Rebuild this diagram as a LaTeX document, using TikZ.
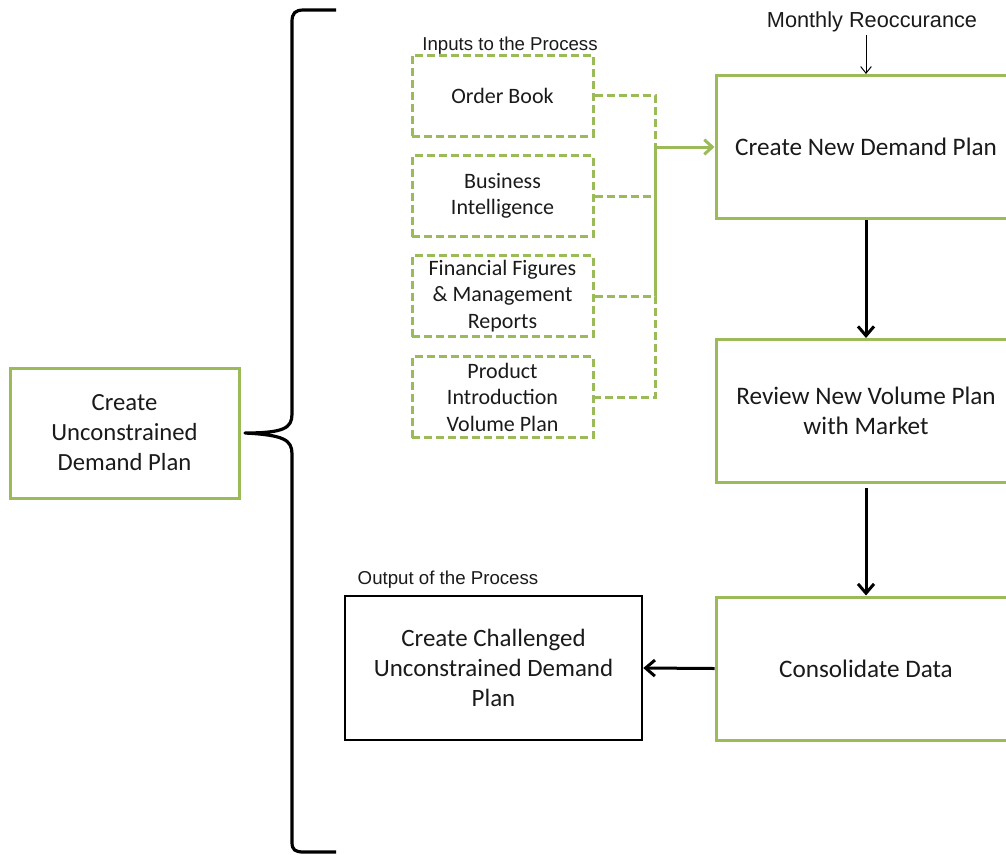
\documentclass[tikz,border=0pt]{standalone}
\usepackage{fontspec}
\setmainfont{Carlito}
\newfontfamily\arialf{Liberation Sans}
\usetikzlibrary{arrows.meta}
\definecolor{ogreen}{HTML}{9BBB59}
\definecolor{txt}{HTML}{1A1A1A}
\tikzset{
  bigbox/.style={draw=ogreen, line width=2.25pt, minimum width=225pt, minimum height=107.25pt, inner sep=0pt, align=center, text=txt, font=\fontsize{18.9}{22.8}\selectfont},
  leftbox/.style={draw=ogreen, line width=2.25pt, minimum width=171.75pt, minimum height=97.5pt, inner sep=0pt, align=center, text=txt, font=\fontsize{18.5}{22.5}\selectfont},
  outbox/.style={draw=black, line width=1.9pt, minimum width=222.75pt, minimum height=108pt, inner sep=0pt, align=center, text=txt, font=\fontsize{18.7}{22.8}\selectfont},
  inbox/.style={draw=ogreen, line width=2.25pt, dash pattern=on 6pt off 3pt, minimum width=135.75pt, minimum height=60.75pt, inner sep=0pt, align=center, text=txt, font=\fontsize{16.5}{19.9}\selectfont},
  lbl/.style={inner sep=0pt, text=txt, font=\arialf\fontsize{14}{16}\selectfont},
  dashline/.style={draw=ogreen, line width=2.25pt, dash pattern=on 6pt off 3pt},
  solidgreen/.style={draw=ogreen, line width=2.25pt},
  bigarrow/.style={draw=black, line width=2.25pt, -{Straight Barb[length=7pt,width=12pt,line width=2.25pt]}},
  greenarrow/.style={draw=ogreen, line width=2.25pt, -{Straight Barb[length=6pt,width=11pt,line width=2.25pt]}},
  thinarrow/.style={draw=black, line width=0.75pt, -{Straight Barb[length=5pt,width=8pt,line width=0.75pt]}},
  bracepath/.style={draw=black, line width=2.4pt, line join=round}
}
\begin{document}
\begin{tikzpicture}[x=0.75pt, y=-0.75pt]
\useasboundingbox (0,0) rectangle (1006,854);
\clip (0,0) rectangle (1006,854);

% main boxes
\node[leftbox] (lb) at (124.5,433) {Create\\Unconstrained\\Demand Plan};
\node[bigbox] (cnd) at (866,147) {Create New Demand Plan};
\node[bigbox] (rev) at (866,411) {Review New Volume Plan\\with Market};
\node[bigbox] (con) at (866,668.5) {Consolidate Data};
\node[outbox] (out) at (493.5,668) {Create Challenged\\Unconstrained Demand\\Plan};

% inputs
\node[inbox] (ob) at (502.5,95.5) {Order Book};
\node[inbox] (bi) at (502.5,196) {Business\\Intelligence};
\node[inbox] (ff) at (502.5,296) {\raisebox{0pt}{}Financial Figures\\\& Management\\Reports};
\node[inbox] (pi) at (502.5,397) {Product\\Introduction\\Volume Plan};

% labels
\node[lbl] (inl) at (510,46) {Inputs to the Process};
\node[lbl] (outl) at (448,580) {Output of the Process};
\node[lbl, font=\arialf\fontsize{16.3}{19}\selectfont] (mr) at (872,22) {Monthly Reoccurance};

% junction
\coordinate (j) at (655,147);

% dashed connectors
\draw[dashline] (ob.east) -- (ob.east -| j) -- (j);
\draw[dashline] (bi.east) -- (bi.east -| j);
\draw[dashline] (ff.east) -- (ff.east -| j) -- (pi.east -| j) -- (pi.east);
\draw[solidgreen] (j) -- (ff.east -| j);
\draw[greenarrow] (j) -- (cnd.west);

% flow arrows
\draw[thinarrow] (cnd.north |- mr.south) ++(0,3) -- (cnd.north);
\draw[bigarrow] (cnd.south) -- (rev.north);
\draw[bigarrow, shorten <=3pt] (rev.south) -- (con.north);
\draw[bigarrow] (con.west) -- (out.east);

% brace
\draw[bracepath] (336,10) -- (304,10) .. controls (295,10) and (292,13) .. (292,22)
  -- (292,414) .. controls (292,428) and (284,433) .. (lb.east -| 245,0)
  .. controls (284,435) and (292,440) .. (292,454)
  -- (292,842) .. controls (292,850) and (295,852) .. (304,852) -- (336,852);
\end{tikzpicture}
\end{document}
